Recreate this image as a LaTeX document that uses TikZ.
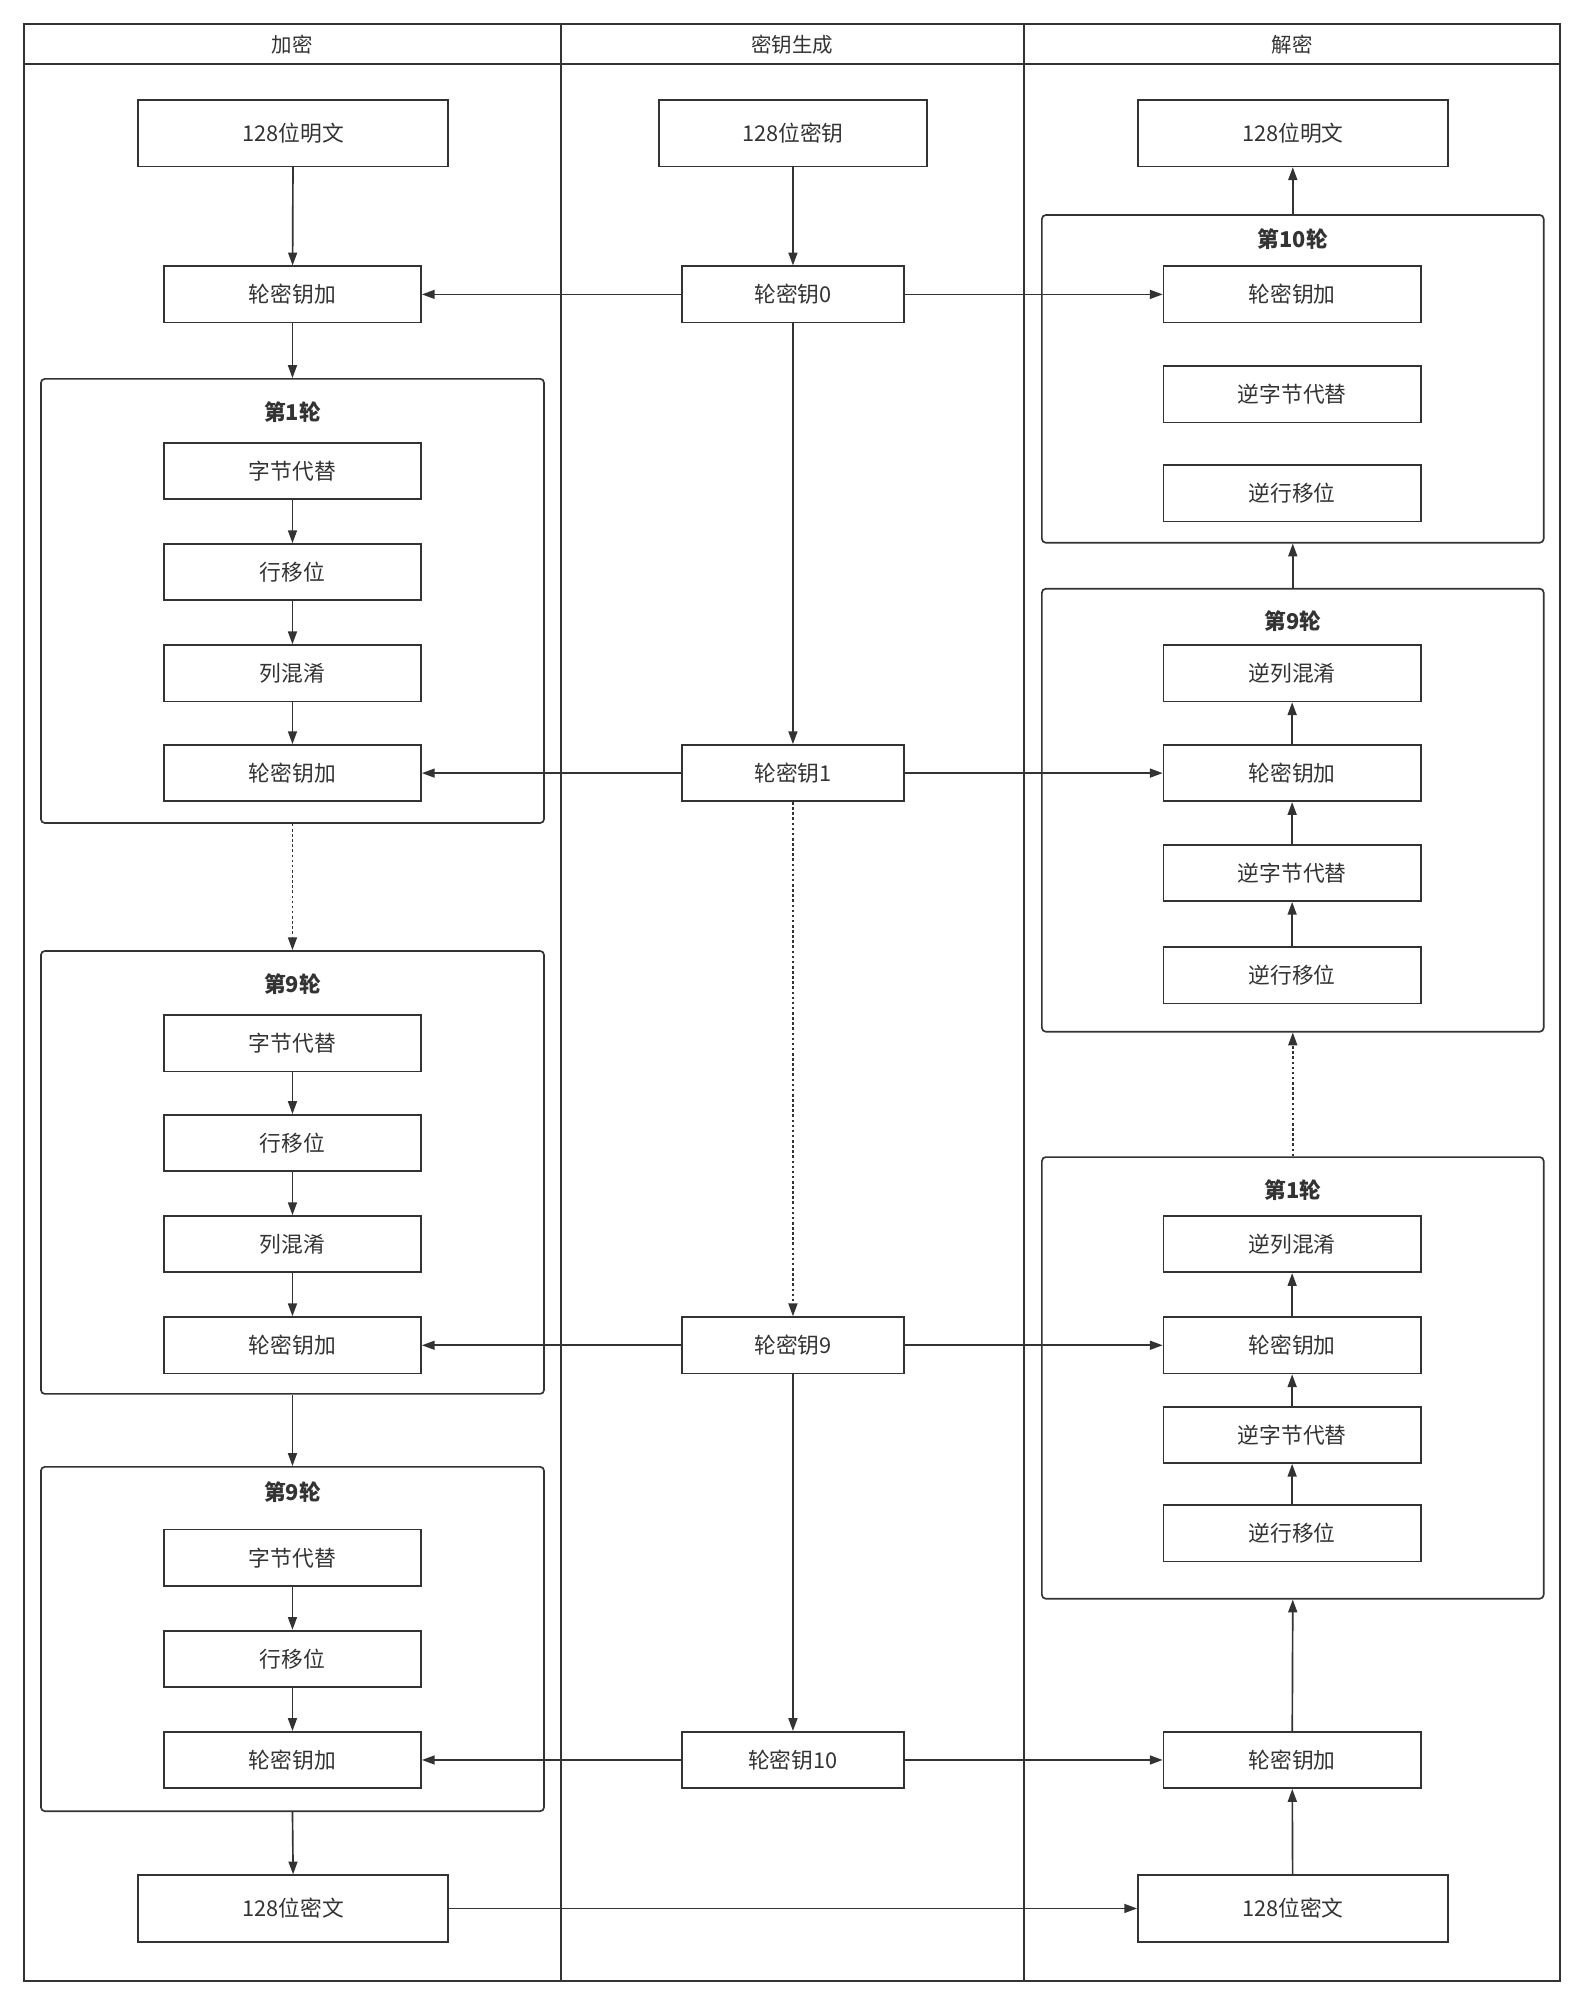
\documentclass[tikz,border=0pt]{standalone}
\usepackage{fontspec}
\setmainfont{Noto Sans CJK SC}
\usetikzlibrary{arrows.meta}
\definecolor{ln}{HTML}{333333}
\tikzset{
  every node/.style={font=\fontsize{17}{19}\selectfont, text=ln},
  box/.style={draw=ln, line width=1.3pt, minimum width=201pt, minimum height=44pt, inner sep=0pt},
  keybox/.style={box, minimum width=173pt},
  bigbox/.style={box, minimum width=242pt, minimum height=52pt},
  grp/.style={draw=ln, line width=1.3pt, rounded corners=3pt, minimum width=393pt, inner sep=0pt},
  grptitle/.style={font=\fontsize{17}{19}\selectfont\bfseries},
  lanehead/.style={font=\fontsize{16}{18}\selectfont},
  arr/.style={draw=ln, line width=1.3pt, -{Triangle[length=10pt,width=7pt]}},
  dotarr/.style={arr, dash pattern=on 2pt off 2pt},
  lanefr/.style={draw=ln, line width=1.5pt}
}
\begin{document}
\begin{tikzpicture}[x=1pt,y=-1pt]
\useasboundingbox[fill=white] (0,0) rectangle (1238,1568);
% lanes
\draw[lanefr] (19,19) rectangle (438,1548);
\draw[lanefr] (438,19) rectangle (800,1548);
\draw[lanefr] (800,19) rectangle (1219,1548);
\draw[lanefr] (19,50) -- (1219,50);
\node[lanehead] (h1) at (228.5,35) {加密};
\node[lanehead] (h2) at (619,35) {密钥生成};
\node[lanehead] (h3) at (1009.5,35) {解密};

% ---------- encryption ----------
\node[bigbox] (pt) at (229,104) {128位明文};
\node[box] (ea0) at (228.5,230) {轮密钥加};

\node[grp, minimum height=347pt] (eg1) at (228.5,469.5) {};
\node[grptitle] (eg1t) at (228.5,322) {第1轮};
\node[box] (esb1) at (228.5,368) {字节代替};
\node[box] (esr1) at (228.5,447) {行移位};
\node[box] (emc1) at (228.5,526) {列混淆};
\node[box] (ea1) at (228.5,604) {轮密钥加};

\node[grp, minimum height=346pt] (eg9) at (228.5,916) {};
\node[grptitle] (eg9t) at (228.5,769) {第9轮};
\node[box] (esb9) at (228.5,815) {字节代替};
\node[box] (esr9) at (228.5,893) {行移位};
\node[box] (emc9) at (228.5,972) {列混淆};
\node[box] (ea9) at (228.5,1051) {轮密钥加};

\node[grp, minimum height=269pt] (eg10) at (228.5,1280.5) {};
\node[grptitle] (eg10t) at (228.5,1166) {第9轮};
\node[box] (esb10) at (228.5,1217) {字节代替};
\node[box] (esr10) at (228.5,1296) {行移位};
\node[box] (ea10) at (228.5,1375) {轮密钥加};

\node[bigbox] (ct) at (229,1491) {128位密文};

\draw[arr] (pt) -- (ea0);
\draw[arr] (ea0) -- (eg1.north);
\draw[arr] (esb1) -- (esr1);
\draw[arr] (esr1) -- (emc1);
\draw[arr] (emc1) -- (ea1);
\draw[dotarr] (eg1.south) -- (eg9.north);
\draw[arr] (esb9) -- (esr9);
\draw[arr] (esr9) -- (emc9);
\draw[arr] (emc9) -- (ea9);
\draw[arr] (eg9.south) -- (eg10.north);
\draw[arr] (esb10) -- (esr10);
\draw[arr] (esr10) -- (ea10);
\draw[arr] (eg10.south) -- (ct.north);

% ---------- key schedule ----------
\node[keybox, minimum width=209pt, minimum height=52pt] (key) at (619.5,104) {128位密钥};
\node[keybox] (rk0) at (619.5,230) {轮密钥0};
\node[keybox] (rk1) at (619.5,604) {轮密钥1};
\node[keybox] (rk9) at (619.5,1051) {轮密钥9};
\node[keybox] (rk10) at (619.5,1375) {轮密钥10};

\draw[arr] (key) -- (rk0);
\draw[arr] (rk0) -- (rk1);
\draw[dotarr] (rk1) -- (rk9);
\draw[arr] (rk9) -- (rk10);

% ---------- decryption ----------
\node[bigbox] (dp) at (1010,104) {128位明文};

\node[grp, minimum width=392pt, minimum height=256pt] (dg10) at (1010,296) {};
\node[grptitle] (dg10t) at (1010,187) {第10轮};
\node[box] (da0) at (1009.5,230) {轮密钥加};
\node[box] (disb10) at (1009.5,308) {逆字节代替};
\node[box] (disr10) at (1009.5,385.5) {逆行移位};

\node[grp, minimum width=392pt, minimum height=346pt] (dg9) at (1010,633) {};
\node[grptitle] (dg9t) at (1010,485) {第9轮};
\node[box] (dimc9) at (1009.5,526) {逆列混淆};
\node[box] (da1) at (1009.5,604) {轮密钥加};
\node[box] (disb9) at (1009.5,682) {逆字节代替};
\node[box] (disr9) at (1009.5,762) {逆行移位};

\node[grp, minimum width=392pt, minimum height=345pt] (dg1) at (1010,1076.5) {};
\node[grptitle] (dg1t) at (1010,930) {第1轮};
\node[box] (dimc1) at (1009.5,972) {逆列混淆};
\node[box] (da9) at (1009.5,1051) {轮密钥加};
\node[box] (disb1) at (1009.5,1121) {逆字节代替};
\node[box] (disr1) at (1009.5,1198) {逆行移位};

\node[box] (da10) at (1009.5,1375) {轮密钥加};
\node[bigbox] (dct) at (1010,1491) {128位密文};

\draw[arr] (dg10.north) -- (dp.south);
\draw[arr] (dg9.north) -- (dg10.south);
\draw[arr] (disr9) -- (disb9);
\draw[arr] (disb9) -- (da1);
\draw[arr] (da1) -- (dimc9);
\draw[dotarr] (dg1.north) -- (dg9.south);
\draw[arr] (disr1) -- (disb1);
\draw[arr] (disb1) -- (da9);
\draw[arr] (da9) -- (dimc1);
\draw[arr] (da10) -- (dg1.south);
\draw[arr] (dct) -- (da10);

% ---------- horizontal key links ----------
\draw[arr] (rk0) -- (ea0);
\draw[arr] (rk0) -- (da0);
\draw[arr] (rk1) -- (ea1);
\draw[arr] (rk1) -- (da1);
\draw[arr] (rk9) -- (ea9);
\draw[arr] (rk9) -- (da9);
\draw[arr] (rk10) -- (ea10);
\draw[arr] (rk10) -- (da10);
\draw[arr] (ct) -- (dct);
\end{tikzpicture}
\end{document}
